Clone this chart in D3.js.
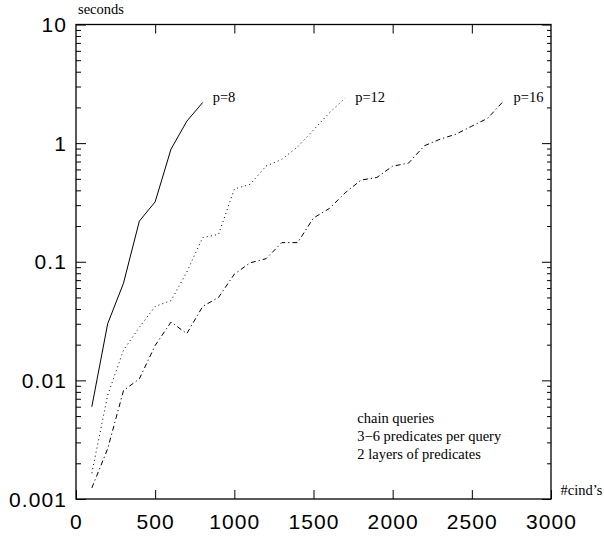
<!DOCTYPE html>
<html>
<head>
<meta charset="utf-8">
<script src="https://cdn.jsdelivr.net/npm/d3@7"></script>
<style>
  html, body { margin: 0; padding: 0; background: #fff; }
  svg { display: block; }
  .tick-num { font-family: "Liberation Sans", Arial, sans-serif; font-size: 21px; letter-spacing: 1.1px; fill: #000; }
  .serif { font-family: "Liberation Serif", "Times New Roman", serif; font-size: 14.5px; fill: #000; }
</style>
</head>
<body>
<svg id="chart" width="604" height="539"></svg>
<script>
// Query time versus number of cind's, for three values of p
const cinds8  = [100, 200, 300, 400, 500, 600, 700, 800];
const secs8   = [0.006, 0.030, 0.066, 0.22, 0.32, 0.89, 1.53, 2.2];

const cinds12 = [100, 200, 300, 400, 500, 600, 700, 800, 900, 1000, 1100, 1200, 1300, 1400, 1500, 1600, 1700];
const secs12  = [0.00165, 0.0075, 0.018, 0.028, 0.042, 0.047, 0.082, 0.16, 0.17, 0.41, 0.45, 0.64, 0.73, 0.93, 1.29, 1.8, 2.4];

const cinds16 = [100, 200, 300, 400, 500, 600, 700, 800, 900, 1000, 1100, 1200, 1300, 1400, 1500, 1600, 1700, 1800, 1900, 2000, 2100, 2200, 2300, 2400, 2500, 2600, 2700];
const secs16  = [0.00124, 0.00265, 0.0082, 0.0103, 0.0197, 0.031, 0.0248, 0.042, 0.050, 0.0786, 0.098, 0.106, 0.145, 0.145, 0.234, 0.281, 0.381, 0.488, 0.513, 0.64, 0.678, 0.95, 1.08, 1.19, 1.39, 1.62, 2.26];

const seriesNames = ["p=8", "p=12", "p=16"];

const xTickValues = [0, 500, 1000, 1500, 2000, 2500, 3000];
const xTickLabels = ["0", "500", "1000", "1500", "2000", "2500", "3000"];
const yTickValues = [0.001, 0.01, 0.1, 1, 10];
const yTickLabels = ["0.001", "0.01", "0.1", "1", "10"];

const noteLines = ["chain queries", "3\u22126 predicates per query", "2 layers of predicates"];
const yTitle = "seconds";
const xTitle = "#cind\u2019s";

const svg = d3.select("#chart");
const plotL = 76, plotR = 551, plotT = 24.5, plotB = 499;

const x = d3.scaleLinear().domain([0, 3000]).range([plotL, plotR]);
const y = d3.scaleLog().domain([0.001, 10]).range([plotB, plotT]);

// minor decade ticks 2..9
const minorY = [];
for (let d = 0.001; d < 10; d *= 10) {
  for (let k = 2; k <= 9; k++) minorY.push(+(d * k).toPrecision(3));
}

function styleAxis(g) {
  g.select(".domain").remove();
  g.selectAll(".tick line").attr("stroke", "#000").attr("stroke-width", 1);
}

// bottom axis with labels, ticks pointing inward
svg.append("g")
  .attr("transform", `translate(0,${plotB})`)
  .call(d3.axisBottom(x).tickValues(xTickValues)
    .tickFormat((d, i) => xTickLabels[i])
    .tickSizeInner(-9).tickSizeOuter(0).tickPadding(15))
  .call(styleAxis)
  .call(g => g.selectAll("text").attr("class", "tick-num").attr("font-family", null).attr("font-size", null));

// top axis, ticks only
svg.append("g")
  .attr("transform", `translate(0,${plotT})`)
  .call(d3.axisTop(x).tickValues(xTickValues.slice(1, -1))
    .tickFormat("").tickSizeInner(-9).tickSizeOuter(0))
  .call(styleAxis);

// left axis, major with labels
svg.append("g")
  .attr("transform", `translate(${plotL},0)`)
  .call(d3.axisLeft(y).tickValues(yTickValues)
    .tickFormat((d, i) => yTickLabels[i])
    .tickSizeInner(-10).tickSizeOuter(0).tickPadding(9))
  .call(styleAxis)
  .call(g => g.selectAll("text").attr("class", "tick-num").attr("font-family", null).attr("font-size", null).attr("dy", "0.34em"));

// left axis, minor
svg.append("g")
  .attr("transform", `translate(${plotL},0)`)
  .call(d3.axisLeft(y).tickValues(minorY).tickFormat("").tickSizeInner(-5).tickSizeOuter(0))
  .call(styleAxis);

// right axis, major and minor
svg.append("g")
  .attr("transform", `translate(${plotR},0)`)
  .call(d3.axisRight(y).tickValues(yTickValues).tickFormat("").tickSizeInner(-9).tickSizeOuter(0))
  .call(styleAxis);
svg.append("g")
  .attr("transform", `translate(${plotR},0)`)
  .call(d3.axisRight(y).tickValues(minorY).tickFormat("").tickSizeInner(-4).tickSizeOuter(0))
  .call(styleAxis);

// frame
svg.append("rect")
  .attr("x", plotL).attr("y", plotT)
  .attr("width", plotR - plotL).attr("height", plotB - plotT)
  .attr("fill", "none").attr("stroke", "#000").attr("stroke-width", 1.3);

// series
const series = [
  { name: seriesNames[0], xs: cinds8,  ys: secs8,  dash: null },
  { name: seriesNames[1], xs: cinds12, ys: secs12, dash: "1,3.2" },
  { name: seriesNames[2], xs: cinds16, ys: secs16, dash: "5,3,1.2,3" }
];

const line = d3.line().x(d => x(d[0])).y(d => y(d[1]));

series.forEach(s => {
  const pts = s.xs.map((v, i) => [v, s.ys[i]]);
  svg.append("path")
    .datum(pts)
    .attr("d", line)
    .attr("fill", "none")
    .attr("stroke", "#000")
    .attr("stroke-width", 1)
    .attr("stroke-dasharray", s.dash);
  const last = pts[pts.length - 1];
  svg.append("text")
    .attr("class", "serif")
    .attr("x", x(last[0]) + 10)
    .attr("y", y(2.2) - 0.7)
    .text(s.name);
});

// axis titles
svg.append("text").attr("class", "serif").attr("x", 78).attr("y", 14).text(yTitle);
svg.append("text").attr("class", "serif").attr("x", 560.5).attr("y", 495).text(xTitle);

// note block
svg.append("g").selectAll("text")
  .data(noteLines)
  .join("text")
  .attr("class", "serif")
  .attr("x", 357.3)
  .attr("y", (d, i) => 423.3 + i * 17.9)
  .text(d => d);
</script>
</body>
</html>
